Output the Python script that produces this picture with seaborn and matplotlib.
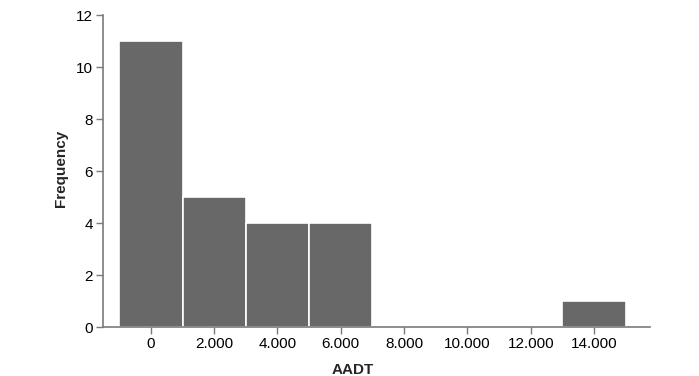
import numpy as np
import matplotlib
matplotlib.use("Agg")
import matplotlib.pyplot as plt
from matplotlib.ticker import FuncFormatter, MultipleLocator
import seaborn as sns

# Histogram data (bin centres and counts)
bin_centers = [0, 2000, 4000, 6000, 8000, 10000, 12000, 14000]
counts = [11, 5, 4, 4, 0, 0, 0, 1]
bin_edges = [-1000, 1000, 3000, 5000, 7000, 9000, 11000, 13000, 15000]
tick_values = [0, 2000, 4000, 6000, 8000, 10000, 12000, 14000]

sns.set_style("ticks")
plt.rcParams["font.family"] = ["Liberation Sans", "DejaVu Sans"]

fig = plt.figure(figsize=(6.99, 3.76), dpi=100)
ax = fig.add_axes([0.147, 0.130, 0.783, 0.830])

sns.histplot(x=bin_centers, weights=counts, bins=bin_edges, color="#686868",
             edgecolor="white", linewidth=1.2, alpha=1, ax=ax)

ax.set_xlim(-1520, 15770)
ax.set_ylim(0, 12)
ax.set_xticks(tick_values)
ax.xaxis.set_major_formatter(FuncFormatter(lambda v, p: f"{int(v):,}".replace(",", ".")))
ax.yaxis.set_major_locator(MultipleLocator(2))

grey = "#7a7a7a"
for side in ["top", "right"]:
    ax.spines[side].set_visible(False)
for side in ["left", "bottom"]:
    ax.spines[side].set_color(grey)
    ax.spines[side].set_linewidth(1.2)
ax.tick_params(colors=grey, labelcolor="black", labelsize=11, length=5, width=1, pad=2)

ax.set_xlabel("AADT", fontsize=11, fontweight="bold")
ax.set_ylabel("Frequency", fontsize=11, fontweight="bold")
ax.xaxis.set_label_coords(0.457, -0.115)
ax.yaxis.set_label_coords(-0.064, 0.51)

fig.savefig("out.png", dpi=100)
